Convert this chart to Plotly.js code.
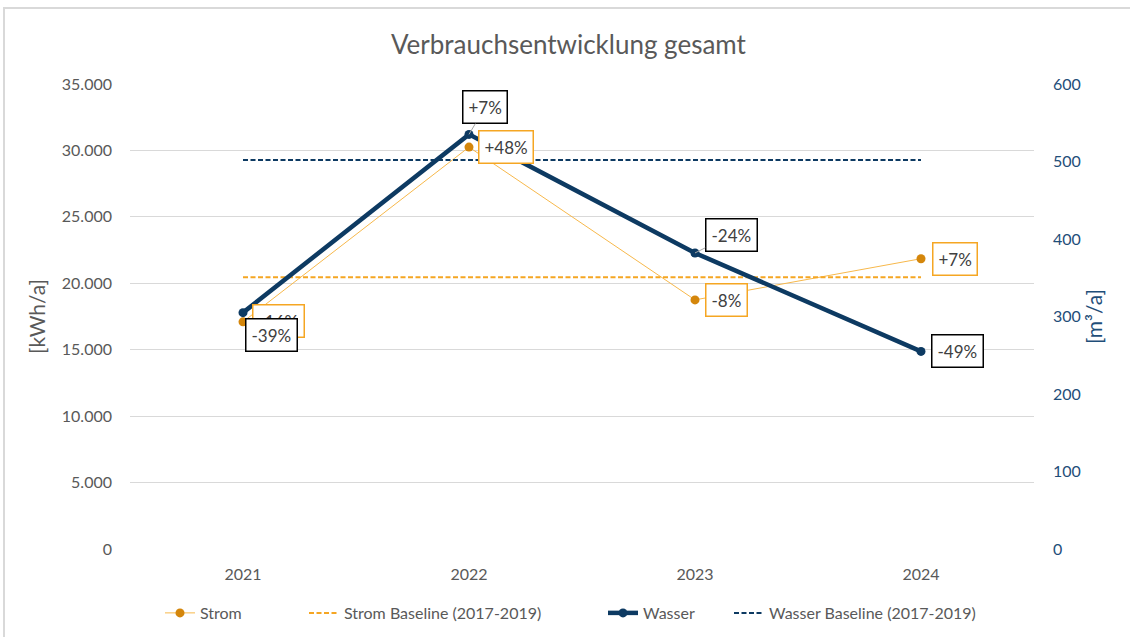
<!DOCTYPE html>
<html>
<head>
<meta charset="utf-8">
<script src="https://cdn.plot.ly/plotly-3.0.1.min.js"></script>
<style>
html,body{margin:0;padding:0;background:#fff;}
#wrap{position:relative;width:1130px;height:637px;overflow:hidden;}
#chart{position:absolute;left:0;top:0;width:1130px;height:637px;}
#frame{position:absolute;left:3px;top:7px;width:1140px;height:640px;border-left:2px solid #D9D9D9;border-top:2px solid #D9D9D9;pointer-events:none;}
</style>
</head>
<body>
<div id="wrap"><div id="chart"></div><div id="frame"></div></div>
<script>
// ---- data ----
const years = ['2021', '2022', '2023', '2024'];
const strom = [17100, 30250, 18750, 21850];          // kWh/a
const stromBaseline = [20450, 20450, 20450, 20450];  // kWh/a (2017-2019)
const wasser = [305, 535, 382, 255];                 // m³/a
const wasserBaseline = [502, 502, 502, 502];         // m³/a (2017-2019)
const stromLabels = ['-16%', '+48%', '-8%', '+7%'];
const wasserLabels = ['-39%', '+7%', '-24%', '-49%'];
const seriesNames = ['Strom', 'Strom Baseline (2017-2019)', 'Wasser', 'Wasser Baseline (2017-2019)'];

// ---- styles ----
const cOrange = '#F5A623';
const cOrangeDark = '#D4860B';
const cNavy = '#0D3A62';
const cText = '#595959';
const cBlueText = '#1F4E79';
const fontFam = 'Lato, "Open Sans", "Noto Sans", sans-serif';

const traces = [
  {x: years, y: strom, name: seriesNames[0], type: 'scatter', mode: 'lines+markers', legend: 'legend',
   line: {color: '#F7B84B', width: 1}, marker: {color: cOrangeDark, size: 9}, yaxis: 'y'},
  {x: years, y: stromBaseline, name: seriesNames[1], type: 'scatter', mode: 'lines', legend: 'legend2',
   line: {color: cOrange, width: 2, dash: '5px,2.5px'}, yaxis: 'y'},
  {x: years, y: wasser, name: seriesNames[2], type: 'scatter', mode: 'lines+markers', legend: 'legend3',
   line: {color: cNavy, width: 4.5}, marker: {color: cNavy, size: 9}, yaxis: 'y2'},
  {x: years, y: wasserBaseline, name: seriesNames[3], type: 'scatter', mode: 'lines', legend: 'legend4',
   line: {color: cNavy, width: 2, dash: '5px,2.5px'}, yaxis: 'y2'}
];

const stromOff = [[35, -1], [37, 0], [31, 0], [34, 0]];
const wasserOff = [[28, 22], [16, -27], [36, -18], [36, 0]];
const wasserLeader = [false, true, true, false];

const annotations = [];
years.forEach((yr, i) => {
  annotations.push({x: i, y: strom[i], xref: 'x', yref: 'y', text: stromLabels[i],
    showarrow: true, arrowhead: 0, arrowcolor: 'rgba(255,255,255,0)', ax: stromOff[i][0], ay: stromOff[i][1],
    bordercolor: cOrange, borderwidth: 1.5, borderpad: 5, bgcolor: '#ffffff',
    font: {family: fontFam, size: 17, color: '#404040'}});
});
years.forEach((yr, i) => {
  annotations.push({x: i, y: wasser[i], xref: 'x', yref: 'y2', text: wasserLabels[i],
    showarrow: true, arrowhead: 0, arrowwidth: 1,
    arrowcolor: wasserLeader[i] ? '#A6A6A6' : 'rgba(255,255,255,0)', ax: wasserOff[i][0], ay: wasserOff[i][1],
    bordercolor: '#000000', borderwidth: 1.5, borderpad: 5, bgcolor: '#ffffff',
    font: {family: fontFam, size: 17, color: '#404040'}});
});

// legend placement (paper fraction of the plot width)
function leg(xpx) {
  return {orientation: 'h', x: (xpx - 130) / 904, xanchor: 'left', y: -0.1376, yanchor: 'middle',
          font: {size: 16, color: cText}, bgcolor: 'rgba(0,0,0,0)', visible: true};
}

const layout = {
  width: 1130, height: 637,
  paper_bgcolor: 'rgba(0,0,0,0)', plot_bgcolor: 'rgba(0,0,0,0)',
  separators: ',.',
  showlegend: true,
  margin: {l: 130, r: 96, t: 84, b: 88, autoexpand: false},
  font: {family: fontFam, color: cText, size: 16},
  title: {text: 'Verbrauchsentwicklung gesamt', x: 0.503, xanchor: 'center', y: 0.929, yanchor: 'middle',
          font: {family: fontFam, size: 26, color: cText}},
  xaxis: {type: 'category', range: [-0.5, 3.5], showgrid: false, showline: false, zeroline: false,
          ticks: '', ticklabelstandoff: 14, tickfont: {size: 16, color: cText}},
  yaxis: {range: [0, 35000], dtick: 5000, tickformat: ',d', showgrid: true, gridcolor: '#D9D9D9', gridwidth: 1,
          zeroline: false, showline: false, ticks: '', ticklabelstandoff: 17,
          tickfont: {size: 16, color: cText},
          title: {text: '[kWh/a]', standoff: 10, font: {size: 21, color: cText}}},
  yaxis2: {range: [0, 600], dtick: 100, overlaying: 'y', side: 'right', showgrid: false, zeroline: false,
           showline: false, ticks: '', ticklabelstandoff: 18, tickfont: {size: 16, color: cBlueText},
           title: {text: '[m³/a]', standoff: 5, font: {size: 21, color: cBlueText}}},
  legend: leg(160),
  legend2: leg(304),
  legend3: leg(603),
  legend4: leg(729),
  annotations: annotations
};

Plotly.newPlot('chart', traces, layout, {displayModeBar: false});
</script>
</body>
</html>
